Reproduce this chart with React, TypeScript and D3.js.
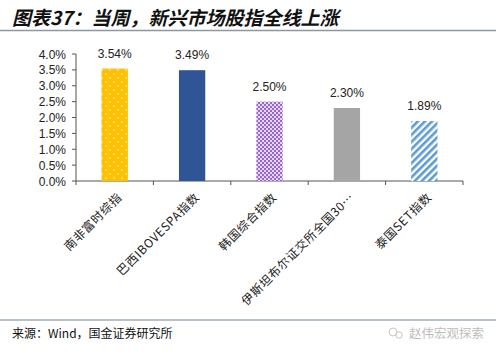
import React from "react";
import * as d3 from "d3";

const categories = ["南非富时综指", "巴西IBOVESPA指数", "韩国综合指数", "伊斯坦布尔证交所全国30…", "泰国SET指数"];
const values = [3.54, 3.49, 2.5, 2.3, 1.89];
const valueLabels = ["3.54%", "3.49%", "2.50%", "2.30%", "1.89%"];
const yTicks = [0, 0.5, 1, 1.5, 2, 2.5, 3, 3.5, 4];
const fills = ["url(#pYellow)", "#2F5597", "url(#pPurple)", "#A5A5A5", "url(#pStripe)"];

export default function App() {
  const W = 500, H = 355;
  const x = d3.scaleBand<string>().domain(categories).range([76, 463]).paddingInner(0.66).paddingOuter(0.33);
  const y = d3.scaleLinear().domain([0, 4]).range([181, 54]);
  const step = x.step();
  const tickXs = d3.range(categories.length + 1).map((i) => 76 + i * step);
  const cjk = "'Noto Sans CJK SC', sans-serif";
  const num = "'Liberation Sans', Arial, sans-serif";
  return (
    <svg width={W} height={H} style={{ position: "absolute", left: 0, top: 0, background: "#fff" }}>
      <defs>
        <pattern id="pYellow" width="8" height="8" patternUnits="userSpaceOnUse">
          <rect width="8" height="8" fill="#FFC000" />
          <circle cx="2" cy="2" r="0.9" fill="#FFE6A0" />
          <circle cx="6" cy="6" r="0.9" fill="#FFE6A0" />
        </pattern>
        <pattern id="pPurple" width="4" height="4" patternUnits="userSpaceOnUse">
          <rect width="4" height="4" fill="#E4D6F3" />
          <rect width="2" height="2" fill="#9966CC" />
          <rect x="2" y="2" width="2" height="2" fill="#9966CC" />
        </pattern>
        <pattern id="pStripe" width="5" height="5" patternUnits="userSpaceOnUse" patternTransform="rotate(45)">
          <rect width="5" height="5" fill="#FFFFFF" />
          <rect width="2.6" height="5" fill="#5B9BD5" />
        </pattern>
      </defs>
      <text x={12} y={25} fontFamily={cjk} fontSize={19} fontWeight="bold" fontStyle="italic" fill="#111">
        图表37：当周，新兴市场股指全线上涨
      </text>
      <line x1={0} x2={496} y1={30.5} y2={30.5} stroke="#8C98A4" strokeWidth={1.5} />

      {yTicks.map((t) => (
        <g key={t}>
          <text x={66} y={y(t) + 4.5} textAnchor="end" fontFamily={num} fontSize={12} fill="#222">
            {t.toFixed(1) + "%"}
          </text>
          <line x1={72} x2={76} y1={y(t)} y2={y(t)} stroke="#555" />
        </g>
      ))}
      <line x1={76} x2={76} y1={54} y2={181} stroke="#555" />
      <line x1={76} x2={463} y1={181} y2={181} stroke="#555" />
      {tickXs.map((tx, i) => (
        <line key={i} x1={tx} x2={tx} y1={181} y2={185} stroke="#555" />
      ))}

      {categories.map((c, i) => (
        <g key={c}>
          <rect x={x(c)} y={y(values[i])} width={x.bandwidth()} height={y(0) - y(values[i])} fill={fills[i]} />
          <text x={(x(c) as number) + x.bandwidth() / 2} y={y(values[i]) - 11} textAnchor="middle" fontFamily={num} fontSize={12} fill="#222">
            {valueLabels[i]}
          </text>
          <text
            transform={`translate(${(x(c) as number) + x.bandwidth() / 2 + 8},${198}) rotate(-45)`}
            textAnchor="end"
            fontFamily={cjk}
            fontSize={12}
            letterSpacing={0.6}
            fill="#222"
          >
            {c}
          </text>
        </g>
      ))}

      <line x1={0} x2={496} y1={320} y2={320} stroke="#6F8798" strokeWidth={1} />
      <text x={12} y={338} fontFamily={cjk} fontSize={12} fill="#111">来源：Wind，国金证券研究所</text>
      <g opacity={0.55}>
        <circle cx={393} cy={332} r={4} fill="none" stroke="#999" strokeWidth={1} />
        <circle cx={399} cy={335} r={3.2} fill="none" stroke="#999" strokeWidth={1} />
        <text x={409} y={338} fontFamily={cjk} fontSize={12.5} fill="#888">赵伟宏观探索</text>
      </g>
    </svg>
  );
}
